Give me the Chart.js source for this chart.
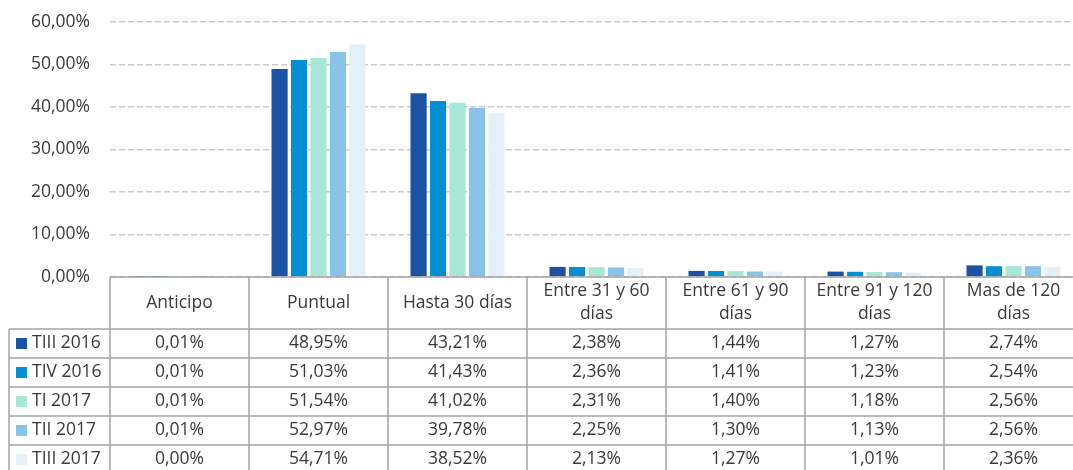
<!DOCTYPE html>
<html>
<head>
<meta charset="utf-8">
<script src="https://cdn.jsdelivr.net/npm/chart.js@4"></script>
<style>
html,body{margin:0;padding:0;background:#fff;overflow:hidden;}
#wrap{position:relative;width:1083px;height:470px;}
</style>
</head>
<body>
<div id="wrap"><canvas id="c"></canvas></div>
<script>
const categories = [
  ['Anticipo'],
  ['Puntual'],
  ['Hasta 30 días'],
  ['Entre 31 y 60', 'días'],
  ['Entre 61 y 90', 'días'],
  ['Entre 91 y 120', 'días'],
  ['Mas de 120', 'días']
];
const seriesNames = ['TIII 2016', 'TIV 2016', 'TI 2017', 'TII 2017', 'TIII 2017'];
const tiii2016 = [0.01, 48.95, 43.21, 2.38, 1.44, 1.27, 2.74];
const tiv2016  = [0.01, 51.03, 41.43, 2.36, 1.41, 1.23, 2.54];
const ti2017   = [0.01, 51.54, 41.02, 2.31, 1.40, 1.18, 2.56];
const tii2017  = [0.01, 52.97, 39.78, 2.25, 1.30, 1.13, 2.56];
const tiii2017 = [0.00, 54.71, 38.52, 2.13, 1.27, 1.01, 2.36];
const seriesValues = [tiii2016, tiv2016, ti2017, tii2017, tiii2017];
const seriesColors = ['#1B52A2', '#068ED2', '#A8E7D7', '#89C3E8', '#E3F0FA'];
const yTicks = [0, 10, 20, 30, 40, 50, 60];

const FONT = '"Open Sans", "Noto Sans", sans-serif';
const FSIZE = 17.5;
const TEXT = '#3a3a3a';
const fmt = v => v.toFixed(2).replace('.', ',') + '%';

const tablePlugin = {
  id: 'dataTable',
  afterDraw(chart) {
    const ctx = chart.ctx;
    const xs = chart.scales.x;
    const area = chart.chartArea;
    const n = categories.length;
    const colW = (area.right - area.left) / n;
    const top = area.bottom;
    const headH = 52;
    const rowH = 29;
    const tableLeft = 9;
    const bottom = top + headH + rowH * seriesNames.length;
    ctx.save();
    ctx.strokeStyle = '#a4a4a4';
    ctx.lineWidth = 1.5;
    ctx.beginPath();
    ctx.moveTo(area.left, top); ctx.lineTo(chart.width, top);
    for (let r = 0; r <= seriesNames.length; r++) {
      const y = top + headH + r * rowH;
      ctx.moveTo(tableLeft, y); ctx.lineTo(chart.width, y);
    }
    for (let i = 0; i <= n; i++) {
      const x = area.left + i * colW;
      ctx.moveTo(x, top); ctx.lineTo(x, bottom);
    }
    ctx.moveTo(tableLeft, top + headH); ctx.lineTo(tableLeft, bottom);
    ctx.stroke();

    ctx.fillStyle = TEXT;
    ctx.font = FSIZE + 'px ' + FONT;
    ctx.textBaseline = 'middle';
    ctx.textAlign = 'center';
    for (let i = 0; i < n; i++) {
      const cx = xs.getPixelForValue(i);
      const lines = categories[i];
      const cy = top + headH / 2;
      const lh = 23;
      lines.forEach((t, k) => {
        ctx.fillText(t, cx, cy + (k - (lines.length - 1) / 2) * lh);
      });
    }
    for (let r = 0; r < seriesNames.length; r++) {
      const cy = top + headH + r * rowH + rowH / 2;
      ctx.fillStyle = seriesColors[r];
      ctx.fillRect(16, cy - 5.5, 11, 11);
      ctx.fillStyle = TEXT;
      ctx.textAlign = 'left';
      ctx.fillText(seriesNames[r], 32, cy);
      ctx.textAlign = 'center';
      for (let i = 0; i < n; i++) {
        ctx.fillText(fmt(seriesValues[r][i]), xs.getPixelForValue(i), cy);
      }
    }
    ctx.restore();
  }
};

new Chart(document.getElementById('c'), {
  type: 'bar',
  data: {
    labels: categories,
    datasets: seriesNames.map((name, i) => ({
      label: name,
      data: seriesValues[i],
      backgroundColor: seriesColors[i],
      borderWidth: 0,
      barPercentage: 0.83,
      categoryPercentage: 0.70
    }))
  },
  options: {
    responsive: true,
    maintainAspectRatio: false,
    animation: false,
    layout: { padding: { top: 22, bottom: 193, left: 0, right: 0 } },
    plugins: { legend: { display: false }, tooltip: { enabled: false } },
    scales: {
      x: { display: false },
      y: {
        min: 0, max: 60,
        afterFit(s) { s.width = 110; s.paddingTop = 0; s.paddingBottom = 0; },
        afterBuildTicks(s) { s.ticks = yTicks.map(v => ({ value: v })); },
        grid: {
          color: '#c9c9c9',
          lineWidth: 1.5,
          drawTicks: false
        },
        border: { display: false, dash: [6, 3] },
        ticks: {
          padding: 20,
          color: TEXT,
          font: { family: FONT, size: FSIZE },
          callback: v => fmt(v)
        }
      }
    }
  },
  plugins: [tablePlugin]
});
</script>
</body>
</html>
